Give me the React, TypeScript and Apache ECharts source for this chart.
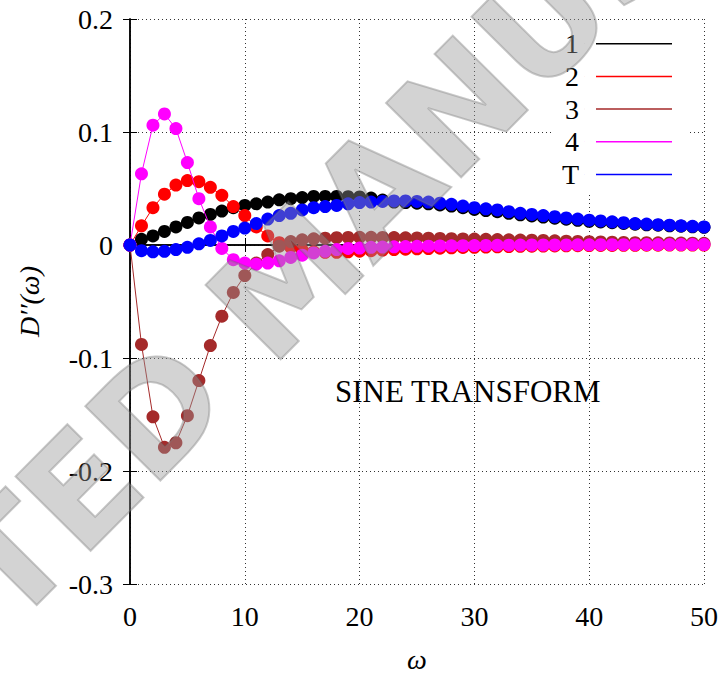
import React, { useEffect, useRef } from 'react';
import * as echarts from 'echarts';

const omega = [
  0, 1, 2, 3, 4, 5, 6, 7, 8, 9, 10, 11, 12, 13, 14, 15, 16, 17, 18, 19, 20,
  21, 22, 23, 24, 25, 26, 27, 28, 29, 30, 31, 32, 33, 34, 35, 36, 37, 38, 39, 40,
  41, 42, 43, 44, 45, 46, 47, 48, 49, 50,
];

const series1 = [
  0, 0.005, 0.008, 0.012, 0.016, 0.02, 0.024, 0.027, 0.03, 0.033, 0.035,
  0.0365, 0.038, 0.04, 0.041, 0.042, 0.043, 0.043, 0.043, 0.0428, 0.0425,
  0.0415, 0.0398, 0.038, 0.0375, 0.037, 0.0365, 0.0355, 0.0345, 0.033, 0.0315,
  0.0305, 0.0295, 0.028, 0.0267, 0.0257, 0.0247, 0.0237, 0.0228, 0.0219, 0.021,
  0.0204, 0.0197, 0.0191, 0.0184, 0.0179, 0.0175, 0.017, 0.0166, 0.0161, 0.0156,
];

const series2 = [
  0, 0.017, 0.033, 0.045, 0.053, 0.057, 0.056, 0.051, 0.044, 0.034, 0.026,
  0.016, 0.008, 0.002, -0.002, -0.0045, -0.006, -0.0065, -0.0065, -0.006, -0.0055,
  -0.005, -0.0045, -0.004, -0.0037, -0.0034, -0.0031, -0.0028, -0.0025, -0.0022, -0.002,
  -0.0018, -0.0016, -0.0014, -0.0012, -0.001, -0.0009, -0.0008, -0.0007, -0.0006, -0.0005,
  -0.0004, -0.0004, -0.0003, -0.0003, -0.0002, -0.0002, -0.0001, -0.0001, 0, 0,
];

const series3 = [
  0, -0.088, -0.152, -0.179, -0.175, -0.151, -0.12, -0.089, -0.063, -0.042, -0.027,
  -0.016, -0.0085, -0.001, 0.003, 0.0046, 0.0055, 0.006, 0.0065, 0.0067, 0.0068,
  0.0068, 0.0067, 0.0066, 0.0064, 0.0062, 0.006, 0.0058, 0.0056, 0.0054, 0.0052,
  0.005, 0.0048, 0.0046, 0.0044, 0.0042, 0.004, 0.0037, 0.0034, 0.0031, 0.0029,
  0.0027, 0.0025, 0.0023, 0.0021, 0.002, 0.0019, 0.0018, 0.0017, 0.0016, 0.0015,
];

const series4 = [
  0, 0.063, 0.106, 0.116, 0.103, 0.073, 0.041, 0.016, -0.003, -0.013, -0.016,
  -0.017, -0.016, -0.014, -0.011, -0.009, -0.007, -0.0056, -0.004, -0.003, -0.0027,
  -0.002, -0.0018, -0.0016, -0.0014, -0.0012, -0.001, -0.0008, -0.0007, -0.0006, -0.0005,
  -0.0004, -0.0003, -0.0002, -0.0001, 0, 0, 0.0001, 0.0001, 0.0002, 0.0002,
  0.0003, 0.0003, 0.0003, 0.0003, 0.0004, 0.0004, 0.0004, 0.0004, 0.0004, 0.0004,
];

const seriesT = [
  0, -0.005, -0.006, -0.0056, -0.004, -0.002, 0.001, 0.004, 0.008, 0.012, 0.015,
  0.019, 0.023, 0.026, 0.028, 0.031, 0.033, 0.034, 0.035, 0.0365, 0.0375,
  0.038, 0.0385, 0.039, 0.039, 0.0385, 0.038, 0.037, 0.036, 0.0345, 0.033,
  0.032, 0.031, 0.0295, 0.028, 0.027, 0.026, 0.025, 0.024, 0.023, 0.022,
  0.0213, 0.0205, 0.0198, 0.019, 0.0185, 0.018, 0.0175, 0.017, 0.0165, 0.016,
];

const seriesNames = ['1', '2', '3', '4', 'T'];
const seriesValues = [series1, series2, series3, series4, seriesT];
const seriesColors = ['#000000', '#ff0000', '#a52a2a', '#ff00ff', '#0000ff'];

const SERIF = 'Liberation Serif';
const LEGEND_ICON = 'path://M0,0h0.05v1.5h-0.05z M12,0h76v1.5h-76z';

export default function App() {
  const ref = useRef<HTMLDivElement>(null);

  useEffect(() => {
    document.body.style.margin = '0';
    const chart = echarts.init(ref.current!, undefined, { renderer: 'svg' });

    const axisLine = { show: true, lineStyle: { color: '#000', width: 1.5 } };
    const axisTick = { show: true, inside: true, length: 7, lineStyle: { color: '#000', width: 1 } };
    const splitLine = { show: true, lineStyle: { color: '#333', width: 1, type: [1, 3] } };

    chart.setOption({
      animation: false,
      backgroundColor: '#fff',
      grid: { left: 130, right: 21, top: 19, bottom: 85, containLabel: false },
      legend: {
        data: seriesNames.map((n) => ({ name: n, icon: LEGEND_ICON })),
        orient: 'vertical',
        align: 'right',
        right: 37,
        top: 20,
        padding: [9.7, 16, 6, 8],
        itemWidth: 88,
        itemHeight: 1.5,
        itemGap: 4.7,
        backgroundColor: '#fff',
        selectedMode: false,
        itemStyle: { borderWidth: 0 },
        textStyle: { fontFamily: SERIF, fontSize: 28, lineHeight: 22, color: '#000' },
      },
      xAxis: [
        {
          type: 'value',
          min: 0,
          max: 50,
          interval: 10,
          name: 'ω',
          nameLocation: 'middle',
          nameGap: 61,
          nameTextStyle: { fontFamily: SERIF, fontSize: 28, fontStyle: 'italic', color: '#000' },
          axisLine,
          axisTick,
          splitLine,
          axisLabel: { fontFamily: SERIF, fontSize: 28, color: '#000', margin: 18 },
        },
        {
          type: 'value',
          position: 'top',
          min: 0,
          max: 50,
          interval: 10,
          axisLine,
          axisTick,
          splitLine: { show: false },
          axisLabel: { show: false },
        },
      ],
      yAxis: [
        {
          type: 'value',
          min: -0.3,
          max: 0.2,
          interval: 0.1,
          name: 'D′′(ω)',
          nameLocation: 'middle',
          nameGap: 87,
          nameTextStyle: { fontFamily: SERIF, fontSize: 28, fontStyle: 'italic', color: '#000' },
          axisLine,
          axisTick,
          splitLine,
          axisLabel: {
            fontFamily: SERIF,
            fontSize: 28,
            color: '#000',
            margin: 17,
            padding: [12, 0, 0, 0],
            formatter: (v: number) => (Math.abs(v) < 1e-9 ? '0' : v.toFixed(1)),
          },
        },
        {
          type: 'value',
          position: 'right',
          min: -0.3,
          max: 0.2,
          interval: 0.1,
          axisLine,
          axisTick,
          splitLine: { show: false },
          axisLabel: { show: false },
        },
      ],
      series: seriesNames.map((name, k) => ({
        name,
        type: 'line',
        xAxisIndex: 0,
        yAxisIndex: 0,
        data: omega.map((w, i) => [w, seriesValues[k][i]]),
        symbol: 'circle',
        symbolSize: 13,
        showSymbol: true,
        color: seriesColors[k],
        lineStyle: { width: 1, color: seriesColors[k] },
        itemStyle: { color: seriesColors[k], borderWidth: 0 },
        z: 2 + k,
      })),
      graphic: [
        {
          type: 'text',
          left: 335,
          top: 376,
          z: 50,
          style: {
            text: 'SINE TRANSFORM',
            fontFamily: SERIF,
            fontSize: 31,
            fill: '#000',
          },
        },
        {
          type: 'text',
          x: 298,
          y: 270,
          rotation: 0.79,
          z: 100,
          silent: true,
          style: {
            text: 'ACCEPTED MANUSCRIPT',
            fontFamily: 'DejaVu Sans',
            fontSize: 145,
            fontWeight: 'bold',
            fill: 'rgba(150,150,150,0.42)',
            stroke: 'rgba(100,100,100,0.35)',
            lineWidth: 2,
            align: 'center',
            verticalAlign: 'middle',
            textAlign: 'center',
            textVerticalAlign: 'middle',
          },
        },
      ],
    });

    return () => chart.dispose();
  }, []);

  return (
    <div
      ref={ref}
      style={{ position: 'absolute', left: 0, top: 0, width: 725, height: 678 }}
    />
  );
}
